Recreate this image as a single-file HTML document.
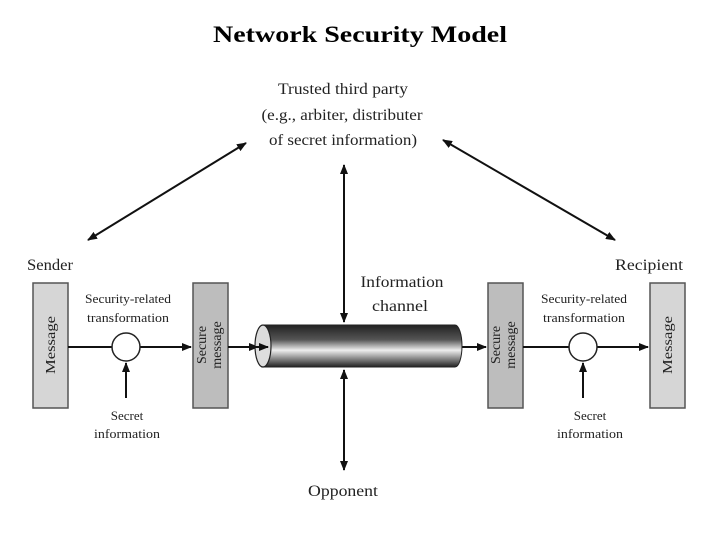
<!DOCTYPE html>
<html><head><style>body{margin:0;background:#fff}svg{display:block}</style></head><body>
<svg width="720" height="540" viewBox="0 0 720 540" xmlns="http://www.w3.org/2000/svg" font-family="Liberation Serif, serif">
<defs>
<marker id="a" markerWidth="10" markerHeight="8" refX="9" refY="4" orient="auto-start-reverse" markerUnits="userSpaceOnUse"><path d="M0,0 L10,4 L0,8 z" fill="#111"/></marker>
<linearGradient id="g" x1="0" y1="0" x2="0" y2="1">
<stop offset="0" stop-color="#222"/><stop offset="0.35" stop-color="#555"/><stop offset="0.6" stop-color="#eee"/><stop offset="0.8" stop-color="#888"/><stop offset="1" stop-color="#222"/></linearGradient>
</defs>
<text x="360" y="42" font-size="23" font-weight="bold" text-anchor="middle" textLength="294" lengthAdjust="spacingAndGlyphs">Network Security Model</text>
<g font-size="16" fill="#222" text-anchor="middle">
<text x="343" y="94" textLength="130" lengthAdjust="spacingAndGlyphs">Trusted third party</text>
<text x="342" y="120" textLength="161" lengthAdjust="spacingAndGlyphs">(e.g., arbiter, distributer</text>
<text x="343" y="145" textLength="148" lengthAdjust="spacingAndGlyphs">of secret information)</text>
<text x="402" y="287" textLength="83" lengthAdjust="spacingAndGlyphs">Information</text>
<text x="400" y="311" textLength="56" lengthAdjust="spacingAndGlyphs">channel</text>
<text x="343" y="496" textLength="70" lengthAdjust="spacingAndGlyphs">Opponent</text>
<text x="50" y="270" textLength="46" lengthAdjust="spacingAndGlyphs">Sender</text>
<text x="649" y="270" textLength="68" lengthAdjust="spacingAndGlyphs">Recipient</text>
</g>
<g font-size="13" fill="#222" text-anchor="middle">
<text x="128" y="303" textLength="86" lengthAdjust="spacingAndGlyphs">Security-related</text>
<text x="128" y="322" textLength="82" lengthAdjust="spacingAndGlyphs">transformation</text>
<text x="127" y="420">Secret</text>
<text x="127" y="438" textLength="66" lengthAdjust="spacingAndGlyphs">information</text>
<text x="584" y="303" textLength="86" lengthAdjust="spacingAndGlyphs">Security-related</text>
<text x="584" y="322" textLength="82" lengthAdjust="spacingAndGlyphs">transformation</text>
<text x="590" y="420">Secret</text>
<text x="590" y="438" textLength="66" lengthAdjust="spacingAndGlyphs">information</text>
</g>
<g stroke="#555" stroke-width="1.5">
<rect x="33" y="283" width="35" height="125" fill="#d6d6d6"/>
<rect x="193" y="283" width="35" height="125" fill="#bdbdbd"/>
<rect x="488" y="283" width="35" height="125" fill="#bdbdbd"/>
<rect x="650" y="283" width="35" height="125" fill="#d6d6d6"/>
</g>
<g font-size="14" fill="#222" text-anchor="middle">
<text transform="translate(55,345) rotate(-90)" textLength="58" lengthAdjust="spacingAndGlyphs">Message</text>
<text transform="translate(206,345) rotate(-90)">Secure</text>
<text transform="translate(221,345) rotate(-90)">message</text>
<text transform="translate(500,345) rotate(-90)">Secure</text>
<text transform="translate(515,345) rotate(-90)">message</text>
<text transform="translate(672,345) rotate(-90)" textLength="58" lengthAdjust="spacingAndGlyphs">Message</text>
</g>
<g stroke="#111" stroke-width="2" fill="none">
<line x1="68" y1="347" x2="112" y2="347"/>
<line x1="140" y1="347" x2="191" y2="347" marker-end="url(#a)"/>
<line x1="228" y1="347" x2="258" y2="347" marker-end="url(#a)"/>
<line x1="462" y1="347" x2="486" y2="347" marker-end="url(#a)"/>
<line x1="523" y1="347" x2="569" y2="347"/>
<line x1="597" y1="347" x2="648" y2="347" marker-end="url(#a)"/>
<line x1="126" y1="398" x2="126" y2="363" marker-end="url(#a)"/>
<line x1="583" y1="398" x2="583" y2="363" marker-end="url(#a)"/>
<line x1="344" y1="165" x2="344" y2="322" marker-start="url(#a)" marker-end="url(#a)"/>
<line x1="344" y1="370" x2="344" y2="470" marker-start="url(#a)" marker-end="url(#a)"/>
<line x1="246" y1="143" x2="88" y2="240" marker-start="url(#a)" marker-end="url(#a)"/>
<line x1="443" y1="140" x2="615" y2="240" marker-start="url(#a)" marker-end="url(#a)"/>
</g>
<circle cx="126" cy="347" r="14" fill="#fff" stroke="#222" stroke-width="1.5"/>
<circle cx="583" cy="347" r="14" fill="#fff" stroke="#222" stroke-width="1.5"/>
<path d="M263,325 L455,325 A7,21 0 0 1 455,367 L263,367 Z" fill="url(#g)" stroke="#222" stroke-width="1"/>
<ellipse cx="263" cy="346" rx="8" ry="21" fill="#ddd" stroke="#222" stroke-width="1.2"/>
<line x1="252" y1="347" x2="268" y2="347" stroke="#111" stroke-width="2" marker-end="url(#a)"/>
</svg>
</body></html>
